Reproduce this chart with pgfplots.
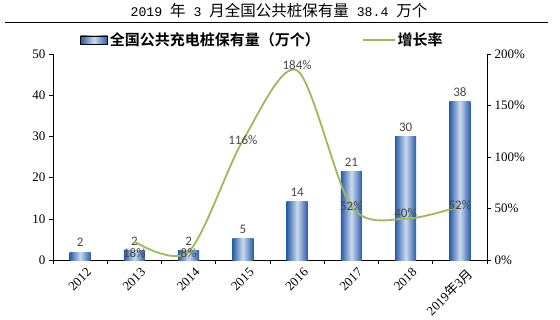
\documentclass[border=0pt]{standalone}
\usepackage{pgfplots}
\pgfplotsset{compat=1.18}
\usepackage{pgfplotstable}
\usepackage{fontspec}
\setmainfont{Liberation Serif}
\newfontfamily\cjk{Noto Sans CJK SC}
\newfontfamily\cjkb{Noto Sans CJK SC Bold}
\newfontfamily\lbl{Carlito}
\newfontfamily\mono{Liberation Mono}[Scale=0.85]
\definecolor{barblue}{RGB}{40,92,172}
\definecolor{barlight}{RGB}{205,218,236}
\definecolor{lgreen}{RGB}{155,187,89}
\definecolor{lblgray}{RGB}{70,70,70}
\pgfplotstableread{
x v
0 1.9
1 2.2
2 2.2
3 5.1
4 14.1
5 21.4
6 30.0
7 38.4
}\bars
\pgfplotstableread{
x g dy
1 18 -12
2 8 -1
3 116 0
4 184 5
5 52 0
6 40 6
7 52 1
}\growth
\begin{document}
\begin{tikzpicture}[x=1pt,y=1pt]
\useasboundingbox (0,0) rectangle (560,319);
\node[font=\cjk\fontsize{15.5}{15.5}\selectfont] at (279,308) {{\mono 2019 }年{\mono\ 3 }月全国公共桩保有量{\mono\ 38.4 }万个};
\draw[line width=1.6pt] (5,296.5) -- (548,296.5);
\pgfplotsset{common/.style={
  at={(53pt,59pt)}, anchor=south west,
  scale only axis, width=434pt, height=206pt,
  xmin=-0.5, xmax=7.5,
  /pgf/number format/assume math mode=true,
  tick align=outside,
  major tick length=4pt,
  minor tick length=4pt,
  tick style={black, line width=0.6pt},
  axis line style={black, line width=0.8pt},
  tick label style={font=\fontsize{13}{13}\selectfont},
  clip=false,
}}
\begin{axis}[common,
  axis y line*=left, axis x line*=bottom,
  ymin=0, ymax=50, ytick={0,10,...,50},
  xtick={0,...,7},
  xticklabels={2012,2013,2014,2015,2016,2017,2018,{2019{\cjk 年}3{\cjk 月}}},
  xtick style={draw=none},
  minor xtick={-0.5,0.5,...,7.5},
  minor x tick style={draw=black, line width=0.6pt},
  xticklabel style={rotate=45, anchor=north east, inner sep=0pt, yshift=-6pt, xshift=2pt},
]
\pgfplotsinvokeforeach{0,...,7}{
\addplot[ybar, bar width=21pt, draw=none, left color=barblue, right color=barblue, middle color=barlight,
  restrict expr to domain={\coordindex}{#1:#1},
  nodes near coords={\pgfmathprintnumber[fixed,precision=0]{\pgfplotspointmeta}},
  nodes near coords style={font=\lbl\fontsize{13}{13}\selectfont, text=lblgray, anchor=south, inner sep=2pt, yshift=3pt}]
  table[x=x,y=v]{\bars};
}
\end{axis}
\begin{axis}[common,
  axis y line*=right, axis x line=none,
  ymin=0, ymax=200, ytick={0,50,...,200},
  yticklabel={\pgfmathprintnumber{\tick}\%},
  legend style={at={(0.4827,1.068)}, anchor=center, draw=none, fill=none,
    font=\cjkb\fontsize{15}{15}\selectfont,
    /tikz/every even column/.append style={column sep=40pt}},
  legend columns=2,
]
\addlegendimage{legend image code/.code={\fill[left color=barblue,right color=barblue,middle color=barlight] (0pt,-4pt) rectangle (27pt,4pt);}}
\addlegendentry{全国公共充电桩保有量（万个）}
\addplot[lgreen, line width=1.8pt, smooth, mark=none,
  legend image code/.code={\draw[lgreen, line width=1.8pt] (0pt,0pt) -- (32pt,0pt);}]
  table[x=x,y=g]{\growth};
\addlegendentry{增长率}
\addplot[draw=none, mark=none, forget plot,
  visualization depends on={\thisrow{dy} \as \dy},
  nodes near coords={\pgfmathprintnumber{\pgfplotspointmeta}\%},
  nodes near coords style={anchor=center, yshift=\dy pt, font=\lbl\fontsize{13}{13}\selectfont, text=lblgray}]
  table[x=x,y=g]{\growth};
\end{axis}
\end{tikzpicture}
\end{document}
